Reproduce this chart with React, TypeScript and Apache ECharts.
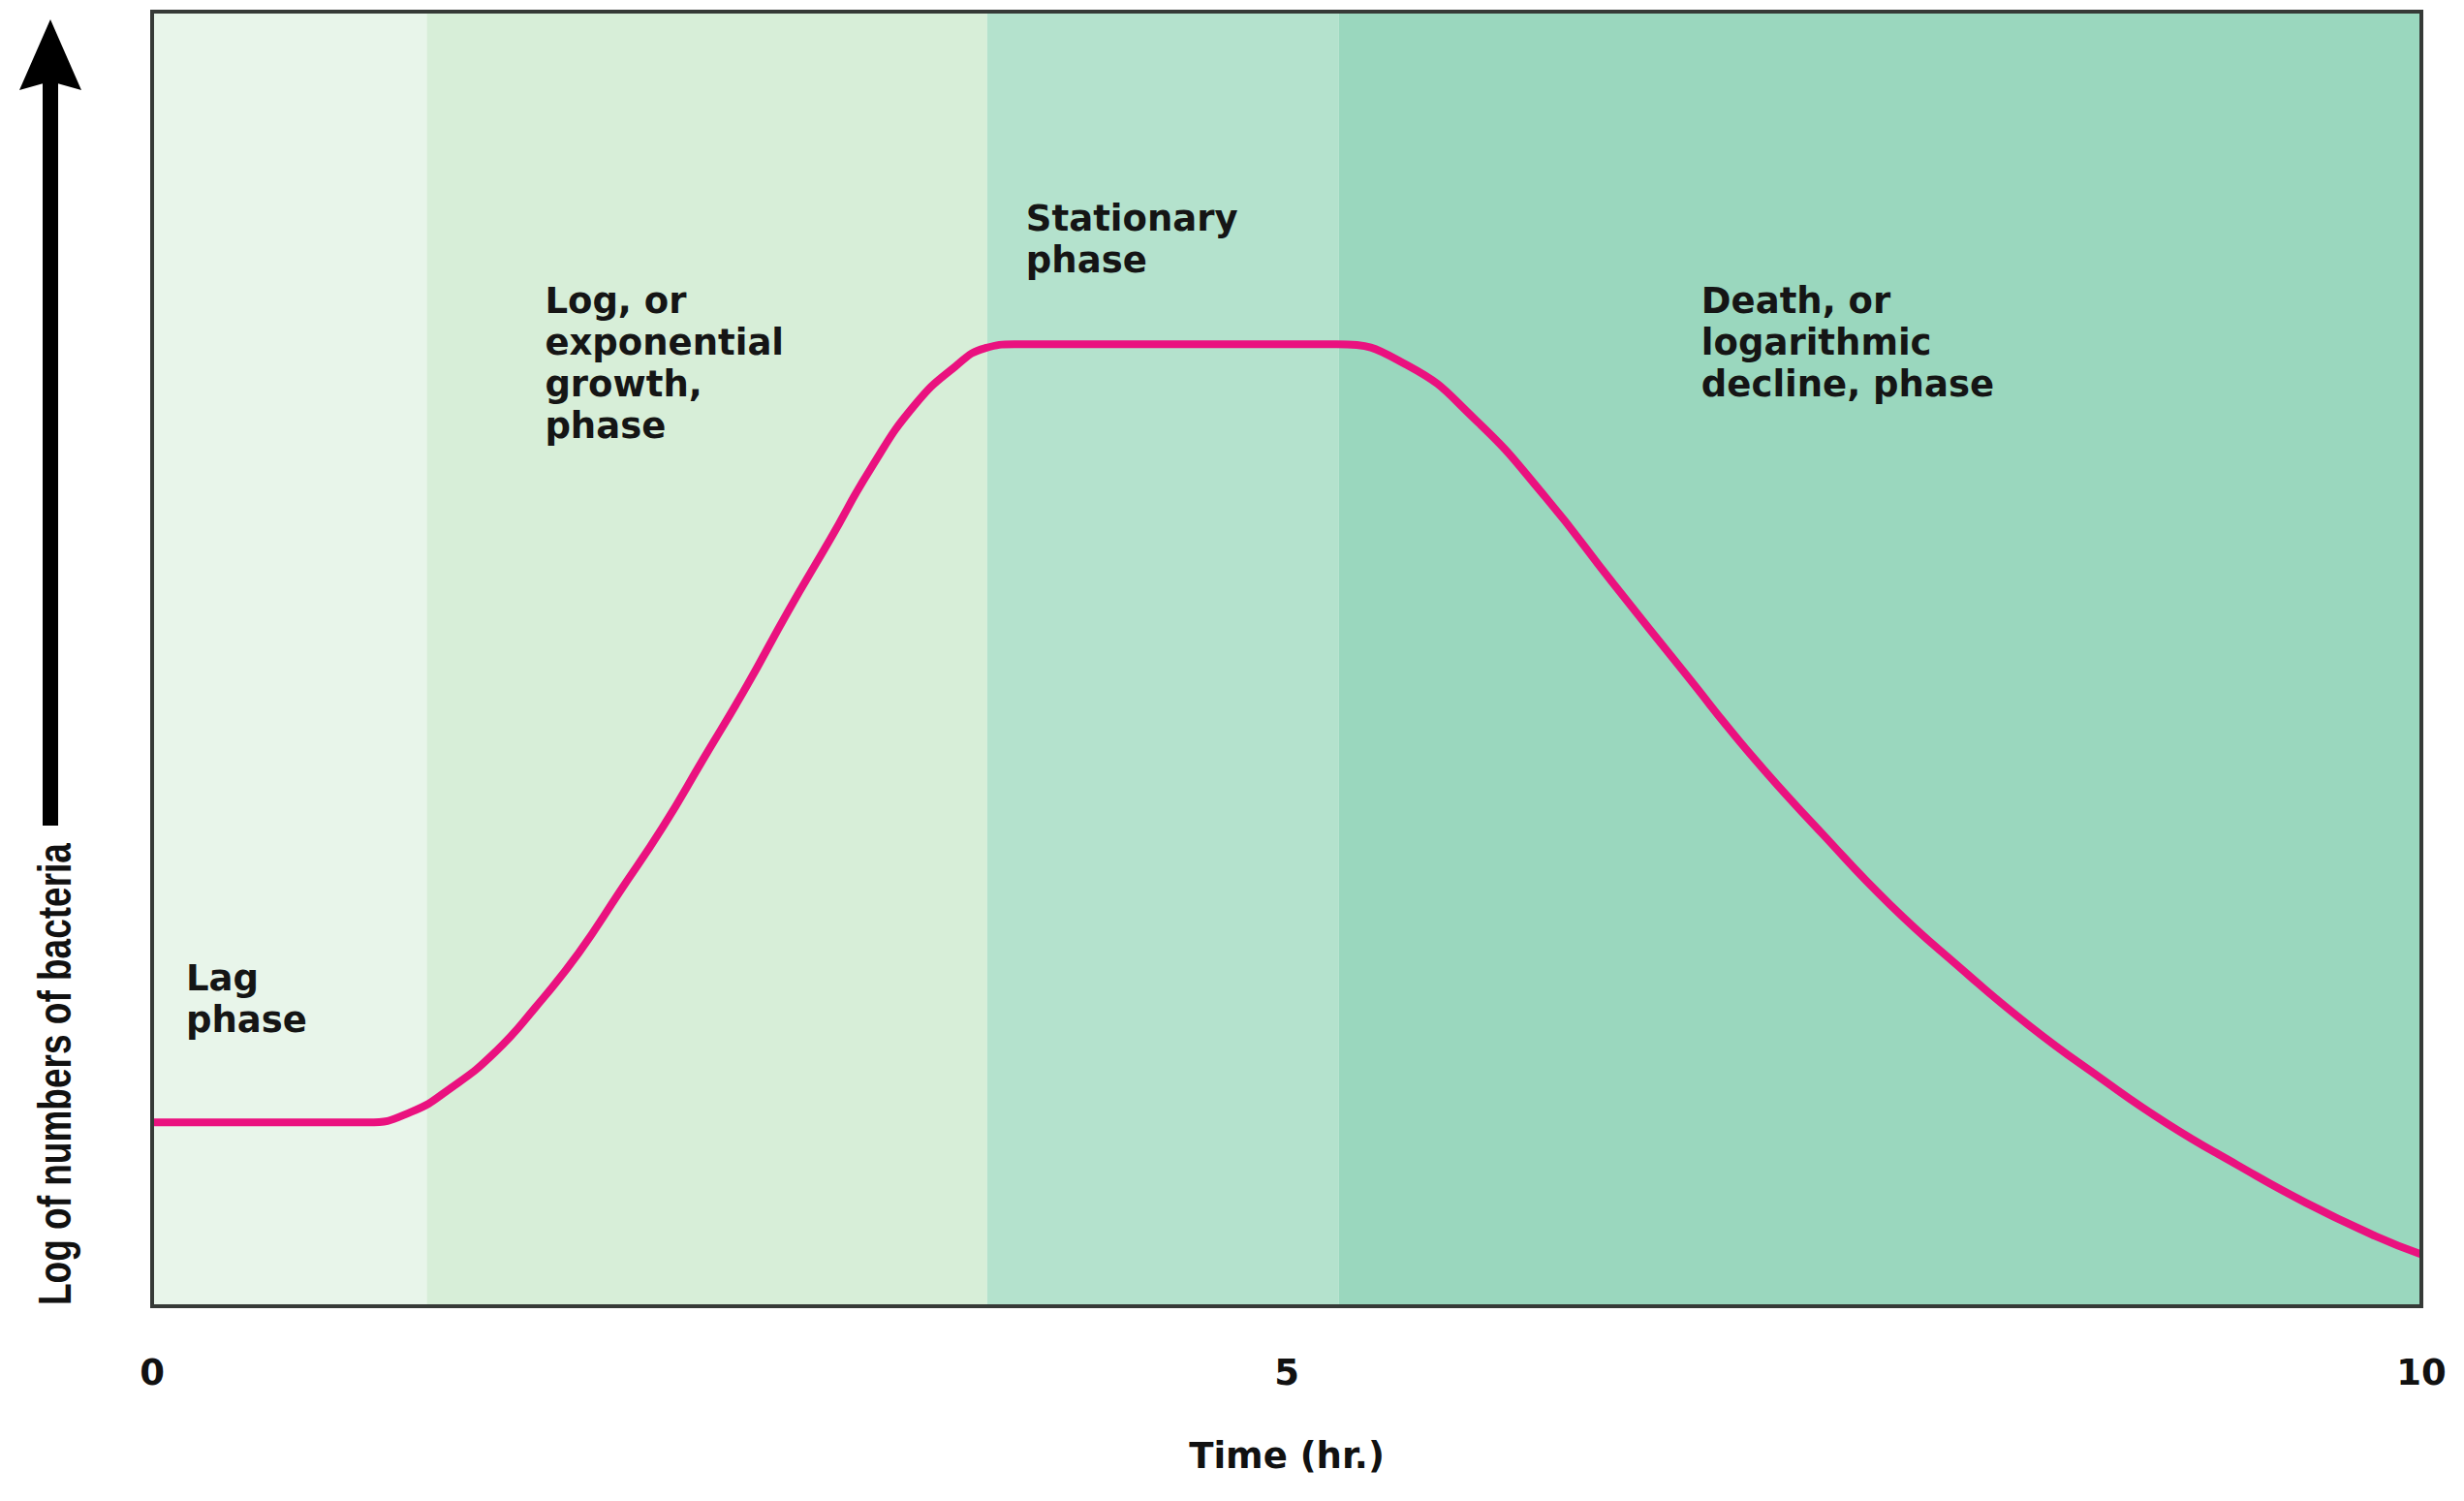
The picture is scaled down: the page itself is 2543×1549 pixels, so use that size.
import React, { useEffect, useRef } from "react";
import * as echarts from "echarts";

// Growth curve: time (hr) and log of numbers of bacteria (arbitrary units, axis 0..10)
const timeHr = [0, 0.5, 0.95, 1.14, 1.32, 1.51, 1.69, 1.88, 2.06, 2.25, 2.43, 2.62, 2.8, 2.99, 3.17, 3.36, 3.54, 3.67, 3.8, 4.5, 5.22, 5.53, 5.83, 6.14, 6.44, 6.75, 7.05, 7.36, 7.66, 7.97, 8.27, 8.58, 8.88, 9.19, 9.49, 9.8, 10];
const logCount = [1.42, 1.42, 1.42, 1.5, 1.69, 1.96, 2.31, 2.73, 3.2, 3.7, 4.23, 4.79, 5.36, 5.93, 6.48, 6.96, 7.26, 7.4, 7.43, 7.43, 7.43, 7.27, 6.85, 6.25, 5.58, 4.9, 4.25, 3.65, 3.1, 2.61, 2.17, 1.77, 1.41, 1.09, 0.8, 0.54, 0.4];

// Phase bands along the time axis
const phaseBreaks = [0, 1.21, 3.68, 5.23, 10];
const phaseNames = [
  "Lag\nphase",
  "Log, or\nexponential\ngrowth,\nphase",
  "Stationary\nphase",
  "Death, or\nlogarithmic\ndecline, phase",
];
const phaseColors = ["#e8f5ea", "#d7eed8", "#b4e2cd", "#9ad7be"];
const phaseLabelOffsets = [
  [35, 976],
  [122, 277],
  [40, 192],
  [374, 277],
];

const xTicks = [0, 5, 10];
const xTitle = "Time (hr.)";
const yTitle = "Log of numbers of bacteria";

const FONT = "'DejaVu Sans', 'Liberation Sans', sans-serif";

export default function App() {
  const ref = useRef<HTMLDivElement>(null);

  useEffect(() => {
    if (!ref.current) return;
    const chart = echarts.init(ref.current, undefined, { renderer: "svg" });

    const areas = phaseNames.map((name, i) => [
      {
        name,
        xAxis: phaseBreaks[i],
        itemStyle: { color: phaseColors[i] },
        label: {
          show: true,
          position: phaseLabelOffsets[i],
          formatter: name,
        },
      },
      { xAxis: phaseBreaks[i + 1] },
    ]);

    chart.setOption({
      animation: false,
      backgroundColor: "#ffffff",
      grid: {
        left: 157,
        top: 12,
        width: 2342,
        height: 1336,
        show: true,
        z: 10,
        backgroundColor: "transparent",
        borderColor: "#363a37",
        borderWidth: 4,
      },
      xAxis: {
        type: "value",
        min: 0,
        max: 10,
        interval: 5,
        name: xTitle,
        nameLocation: "middle",
        nameGap: 136,
        nameTextStyle: {
          fontFamily: FONT,
          fontWeight: "bold",
          fontSize: 37,
          color: "#111",
        },
        axisLine: { show: false },
        axisTick: { show: false },
        splitLine: { show: false },
        axisLabel: {
          show: true,
          showMinLabel: true,
          showMaxLabel: true,
          margin: 50,
          fontFamily: FONT,
          fontWeight: "bold",
          fontSize: 37,
          color: "#111",
          formatter: (v: number) => (xTicks.includes(v) ? String(v) : ""),
        },
      },
      yAxis: {
        type: "value",
        min: 0,
        max: 10,
        axisLine: { show: false },
        axisTick: { show: false },
        axisLabel: { show: false },
        splitLine: { show: false },
      },
      graphic: [
        {
          type: "rect",
          shape: { x: 44, y: 84, width: 16, height: 768 },
          style: { fill: "#000" },
        },
        {
          type: "polygon",
          shape: {
            points: [
              [52, 20],
              [84, 93],
              [52, 84],
              [20, 93],
            ],
          },
          style: { fill: "#000" },
        },
        {
          type: "text",
          x: 56,
          y: 1347,
          rotation: Math.PI / 2,
          scaleY: 1.3,
          style: {
            text: yTitle,
            fontFamily: "'Liberation Sans', Arial, sans-serif",
            fontWeight: "bold",
            fontSize: 37,
            fill: "#111",
            align: "left",
            verticalAlign: "middle",
          },
        },
      ],
      series: [
        {
          type: "line",
          data: timeHr.map((t, i) => [t, logCount[i]]),
          showSymbol: false,
          smooth: 0.5,
          lineStyle: { color: "#ea117f", width: 8 },
          markArea: {
            silent: true,
            label: {
              fontFamily: FONT,
              fontWeight: "bold",
              fontSize: 37,
              lineHeight: 43,
              color: "#151515",
            },
            data: areas,
          },
          z: 2,
        },
      ],
    });

    return () => chart.dispose();
  }, []);

  return (
    <div
      ref={ref}
      style={{ position: "fixed", left: 0, top: 0, width: 2543, height: 1549 }}
    />
  );
}
